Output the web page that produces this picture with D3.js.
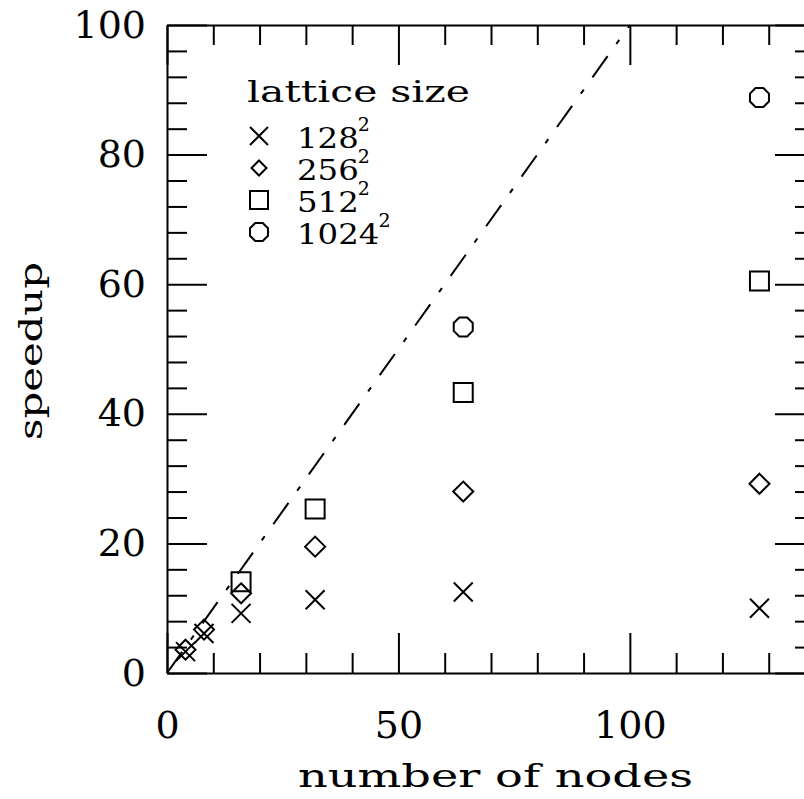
<!DOCTYPE html>
<html>
<head>
<meta charset="utf-8">
<script src="https://cdn.jsdelivr.net/npm/d3@7"></script>
<style>
  body { margin: 0; background: #fff; }
  text { font-family: "DejaVu Serif", serif; fill: #000; }
</style>
</head>
<body>
<div id="chart"></div>
<script>
// data
const nodes = [4, 8, 16, 32, 64, 128];
const speedup128 = [3.3, 6.1, 9.2, 11.3, 12.5, 10.0];
const speedup256 = [3.6, 6.7, 12.3, 19.5, 28.0, 29.2];
const speedup512 = [null, null, 14.1, 25.3, 43.3, 60.5];
const speedup1024 = [null, null, null, null, 53.4, 88.8];
const idealNodes = [0, 100];
const seriesNames = ["128", "256", "512", "1024"];
const seriesShapes = ["cross", "diamond", "square", "octagon"];
const xMajor = [0, 50, 100];
const yMajor = [0, 20, 40, 60, 80, 100];

const W = 804, H = 799;
const svg = d3.select("#chart").append("svg")
  .attr("width", W).attr("height", H);

const x = d3.scaleLinear().domain([0, 140]).range([167, 815]);
const y = d3.scaleLinear().domain([0, 100]).range([673, 25]);

const xMinor = d3.range(0, 141, 10).filter(d => !xMajor.includes(d));
const yMinor = d3.range(0, 101, 4).filter(d => !yMajor.includes(d));

function style(g) {
  g.selectAll("path, line").attr("stroke", "#000").attr("stroke-width", 2);
}
function tickText(g) {
  g.selectAll("text")
    .attr("font-size", 38)
    .attr("font-family", "DejaVu Serif");
}

// bottom
svg.append("g").attr("transform", `translate(0,${y(0)})`)
  .call(d3.axisBottom(x).tickValues(xMajor).tickSizeInner(-40).tickSizeOuter(0).tickPadding(38))
  .call(style).call(tickText);
svg.append("g").attr("transform", `translate(0,${y(0)})`)
  .call(d3.axisBottom(x).tickValues(xMinor).tickSizeInner(-20).tickSizeOuter(0).tickFormat(""))
  .call(style).call(g => g.select(".domain").remove());
// top
svg.append("g").attr("transform", `translate(0,${y(100)})`)
  .call(d3.axisBottom(x).tickValues(xMajor).tickSizeInner(40).tickSizeOuter(0).tickFormat(""))
  .call(style);
svg.append("g").attr("transform", `translate(0,${y(100)})`)
  .call(d3.axisBottom(x).tickValues(xMinor).tickSizeInner(20).tickSizeOuter(0).tickFormat(""))
  .call(style).call(g => g.select(".domain").remove());
// left
svg.append("g").attr("transform", `translate(${x(0)},0)`)
  .call(d3.axisLeft(y).tickValues(yMajor).tickSizeInner(-40).tickSizeOuter(0).tickPadding(21))
  .call(style).call(tickText);
svg.append("g").attr("transform", `translate(${x(0)},0)`)
  .call(d3.axisLeft(y).tickValues(yMinor).tickSizeInner(-20).tickSizeOuter(0).tickFormat(""))
  .call(style).call(g => g.select(".domain").remove());
// right
svg.append("g").attr("transform", `translate(${x(140)},0)`)
  .call(d3.axisLeft(y).tickValues(yMajor).tickSizeInner(40).tickSizeOuter(0).tickFormat(""))
  .call(style);
svg.append("g").attr("transform", `translate(${x(140)},0)`)
  .call(d3.axisLeft(y).tickValues(yMinor).tickSizeInner(20).tickSizeOuter(0).tickFormat(""))
  .call(style).call(g => g.select(".domain").remove());

// axis titles
svg.append("text")
  .attr("x", 298).attr("y", 787)
  .attr("font-size", 32)
  .attr("textLength", 395).attr("lengthAdjust", "spacingAndGlyphs")
  .text("number of nodes");
svg.append("text")
  .attr("transform", "translate(42,440) rotate(-90)")
  .attr("font-size", 32)
  .attr("textLength", 178).attr("lengthAdjust", "spacingAndGlyphs")
  .text("speedup");

// ideal speedup line
svg.append("path")
  .datum(idealNodes)
  .attr("d", d3.line().x(d => x(d)).y(d => y(d)))
  .attr("fill", "none").attr("stroke", "#000").attr("stroke-width", 2)
  .attr("stroke-dasharray", "26,15,5,15");

// marker shapes
function shapePath(kind, s) {
  const h = s / 2;
  if (kind === "cross") return `M${-h},${-h}L${h},${h}M${-h},${h}L${h},${-h}`;
  if (kind === "diamond") return `M0,${-h}L${h},0L0,${h}L${-h},0Z`;
  if (kind === "square") return `M${-h},${-h}H${h}V${h}H${-h}Z`;
  const a = h * 0.414;
  return `M${-a},${-h}L${a},${-h}L${h},${-a}L${h},${a}L${a},${h}L${-a},${h}L${-h},${a}L${-h},${-a}Z`;
}

const allSeries = [speedup128, speedup256, speedup512, speedup1024];
allSeries.forEach((vals, i) => {
  const pts = nodes.map((n, j) => ({ n: n, v: vals[j] })).filter(d => d.v != null);
  svg.append("g").selectAll("path")
    .data(pts)
    .enter().append("path")
    .attr("transform", d => `translate(${x(d.n)},${y(d.v)})`)
    .attr("d", shapePath(seriesShapes[i], i === 1 ? 20 : 19))
    .attr("fill", "none").attr("stroke", "#000").attr("stroke-width", 2);
});

// legend
const legend = svg.append("g");
legend.append("text")
  .attr("x", 247).attr("y", 102)
  .attr("font-size", 29)
  .attr("textLength", 223).attr("lengthAdjust", "spacingAndGlyphs")
  .text("lattice size");
seriesNames.forEach((name, i) => {
  const cy = 136 + i * 32;
  legend.append("path")
    .attr("transform", `translate(259,${cy})`)
    .attr("d", shapePath(seriesShapes[i], i === 1 ? 15 : 18))
    .attr("fill", "none").attr("stroke", "#000").attr("stroke-width", 2);
  const len = name.length * 20.6;
  legend.append("text")
    .attr("x", 297).attr("y", cy + 12)
    .attr("font-size", 28)
    .attr("textLength", len).attr("lengthAdjust", "spacingAndGlyphs")
    .text(name);
  legend.append("text")
    .attr("x", 297 + len - 1).attr("y", cy - 5)
    .attr("font-size", 19)
    .text("2");
});
</script>
</body>
</html>
